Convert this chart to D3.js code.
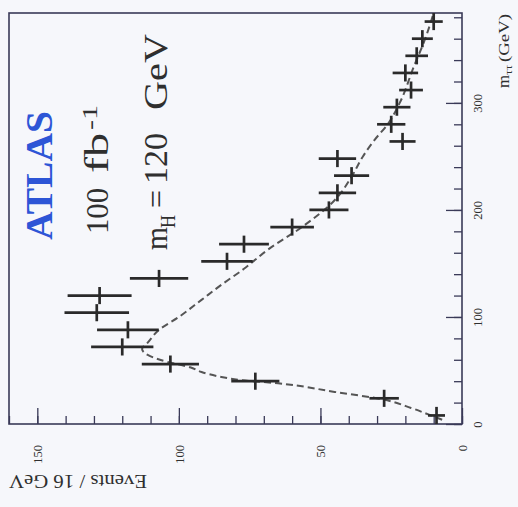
<!DOCTYPE html>
<html><head><meta charset="utf-8">
<script src="https://cdn.jsdelivr.net/npm/d3@7/dist/d3.min.js"></script>
<style>html,body{margin:0;padding:0;background:#f6f7fb;} svg{display:block;}</style>
</head><body><svg id="c" width="518" height="507"></svg>
<script>
// ---- data ----
const massBins = [8,24,40,56,72,88,104,120,136,152,168,184,200,216,232,248,264,280,296,312,328,344,360,376];
const events = [9,27.5,73,103,120,118,129,128,107,83,77,60,47,44,39,44,21,25,23,18,20,16,14,10];
const eventErrors = [3,5.2,8.5,10.1,11,10.9,11.4,11.3,10.3,9.1,8.8,7.7,6.9,6.6,6.2,6.6,4.6,5,4.8,4.2,4.5,4,3.7,3.2];
const binWidth = 16;
const fitMass = [4,8,15,23,30,38,41,44,48.6,53,58,64.5,70,76,88,100,116,130,145,163,185,209,231,250,265,281,300,334,360,384];
const fitEvents = [7,11,18,28,45,65,78,85,92,96,104,111,113,111,107,100,92,85,77,68.5,56,45,39,35,31,26,22,17,13,10];
const massTicks = [0,100,200,300];
const massMinorTicks = d3.range(0, 385, 20);
const eventTicks = [0,50,100,150];
const eventMinorTicks = d3.range(0, 161, 10);

// ---- layout ----
const W = 518, H = 507;
const L = 9, R = 462, T = 13, B = 424;
const serif = "'Liberation Serif','DejaVu Serif',serif";
const ink = "#3a3a58";
const txt = "#2f2f2f";

const svg = d3.select("#c");
svg.append("rect").attr("width", W).attr("height", H).attr("fill", "#f6f7fb");

// rotated chart: events run right-to-left, mass runs bottom-to-top
const xE = d3.scaleLinear().domain([0, 160]).range([R, L]);
const yM = d3.scaleLinear().domain([0, 384]).range([B, T]);

// minor ticks
svg.append("g").attr("transform", `translate(${R},0)`)
  .call(d3.axisRight(yM).tickValues(massMinorTicks).tickSizeInner(-8).tickSizeOuter(0).tickFormat(""))
  .call(g => g.select(".domain").remove())
  .call(g => g.selectAll("line").attr("stroke", ink).attr("stroke-width", 1.3));
svg.append("g").attr("transform", `translate(0,${B})`)
  .call(d3.axisBottom(xE).tickValues(eventMinorTicks).tickSizeInner(-8).tickSizeOuter(0).tickFormat(""))
  .call(g => g.select(".domain").remove())
  .call(g => g.selectAll("line").attr("stroke", ink).attr("stroke-width", 1.3));

// major ticks + labels
svg.append("g").attr("transform", `translate(${R},0)`)
  .call(d3.axisRight(yM).tickValues(massTicks).tickSizeInner(-16).tickSizeOuter(0).tickFormat(d3.format("d")))
  .call(g => g.select(".domain").remove())
  .call(g => g.selectAll("line").attr("stroke", ink).attr("stroke-width", 1.3))
  .call(g => g.selectAll("text")
      .attr("x", null).attr("dy", null)
      .attr("transform", "translate(20,0) rotate(-90)")
      .attr("text-anchor", "middle")
      .attr("font-family", serif).attr("font-size", 12.5).attr("fill", txt));
svg.append("g").attr("transform", `translate(0,${B})`)
  .call(d3.axisBottom(xE).tickValues(eventTicks).tickSizeInner(-16).tickSizeOuter(0).tickFormat(d3.format("d")))
  .call(g => g.select(".domain").remove())
  .call(g => g.selectAll("line").attr("stroke", ink).attr("stroke-width", 1.3))
  .call(g => g.selectAll("text")
      .attr("y", null).attr("dy", "0.35em")
      .attr("transform", "translate(0,21) rotate(-90)")
      .attr("text-anchor", "end")
      .attr("font-family", serif).attr("font-size", 12.5).attr("fill", txt));

// frame
svg.append("rect").attr("x", L).attr("y", T).attr("width", R - L).attr("height", B - T)
  .attr("fill", "none").attr("stroke", ink).attr("stroke-width", 1.6);

// fit curve
const fit = fitMass.map((m, i) => ({m, e: fitEvents[i]}));
svg.append("path").datum(fit)
  .attr("d", d3.line().x(d => xE(d.e)).y(d => yM(d.m)).curve(d3.curveMonotoneY))
  .attr("fill", "none").attr("stroke", "#555").attr("stroke-width", 2)
  .attr("stroke-dasharray", "7,4");

// data crosses
const pts = massBins.map((m, i) => ({m, e: events[i], err: eventErrors[i]}));
const cross = svg.append("g").attr("stroke", "#2a2a2a").attr("stroke-width", 2.7);
cross.selectAll("line.err").data(pts).join("line").attr("class", "err")
  .attr("x1", d => xE(d.e - d.err)).attr("x2", d => xE(d.e + d.err))
  .attr("y1", d => yM(d.m)).attr("y2", d => yM(d.m));
cross.selectAll("line.bin").data(pts).join("line").attr("class", "bin")
  .attr("x1", d => xE(d.e)).attr("x2", d => xE(d.e))
  .attr("y1", d => yM(d.m - binWidth / 2)).attr("y2", d => yM(d.m + binWidth / 2));

// rotated text helper: (bx, by) = baseline start on screen, reading bottom to top
function vtext(bx, by, str, size, len, opts = {}) {
  const t = svg.append("text").attr("transform", `translate(${bx},${by}) rotate(-90)`)
    .attr("font-family", serif).attr("font-size", size).attr("fill", opts.fill || txt)
    .attr("font-weight", opts.bold ? "bold" : null)
    .text(str);
  if (len) t.attr("textLength", len).attr("lengthAdjust", "spacingAndGlyphs");
  return t;
}

vtext(52, 240, "ATLAS", 38, 129, {bold: true, fill: "#2d55d6"});

vtext(108, 234, "100", 32, 46);
vtext(108, 173, "fb", 33, 40);
vtext(97, 130, "-1", 22, 25);

vtext(167, 250, "m", 32, 23);
vtext(175, 228, "H", 22, 13);
vtext(167, 208, "=", 32, 18);
vtext(167, 184, "120", 33, 51);
vtext(167, 110, "GeV", 34, 76);

vtext(509, 88, "m", 16, 13);
vtext(512, 75, "ττ", 11, 10);
vtext(509, 62, "(GeV)", 15, 48);

svg.append("text").attr("transform", "translate(147,475) rotate(180)")
  .attr("font-family", serif).attr("font-size", 18).attr("fill", txt)
  .attr("textLength", 138).attr("lengthAdjust", "spacingAndGlyphs")
  .text("Events / 16 GeV");
</script></body></html>
